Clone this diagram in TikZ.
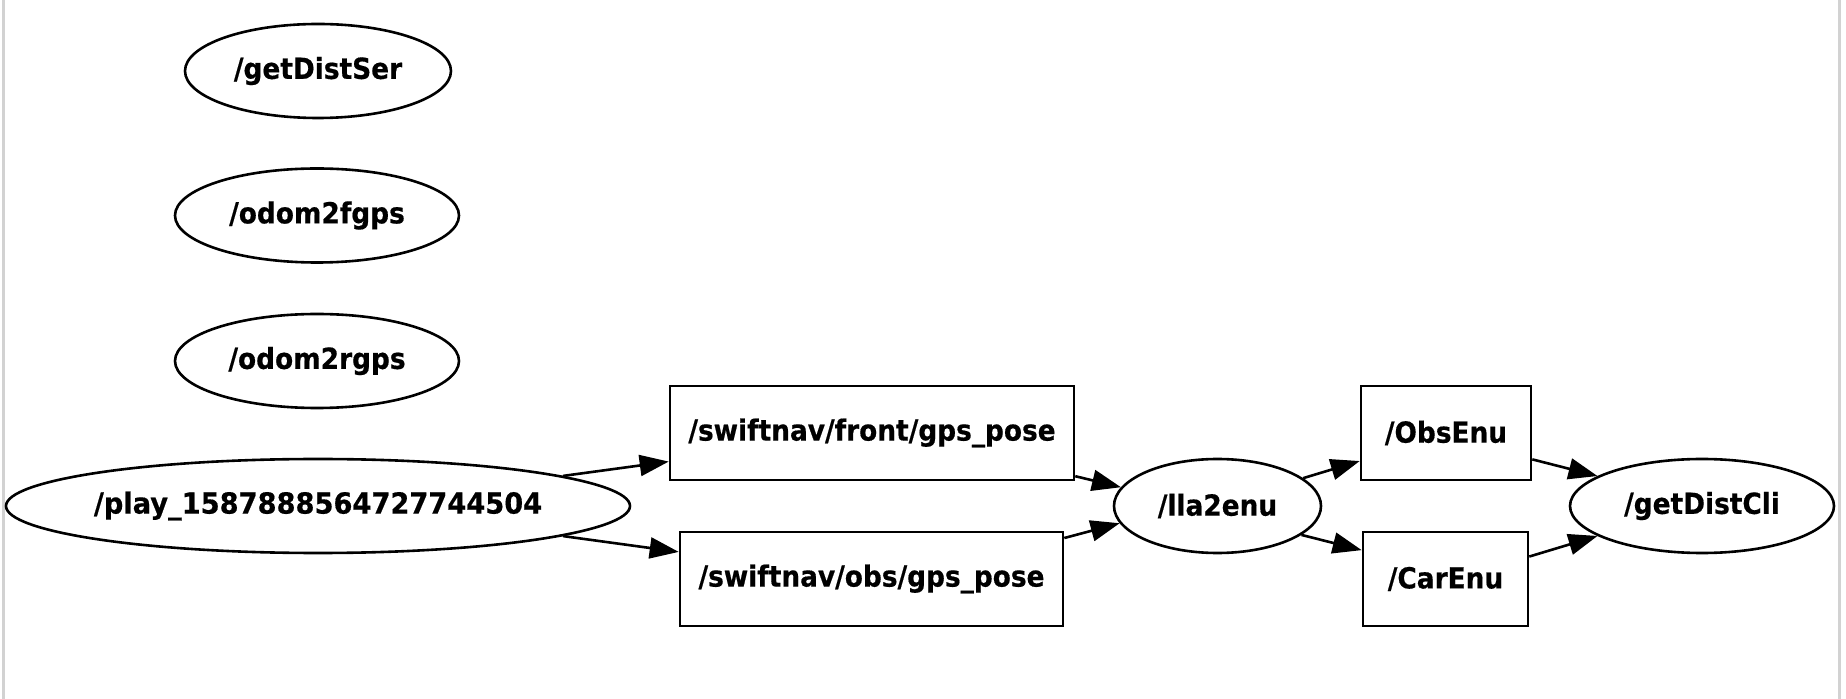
\documentclass[tikz,border=0pt]{standalone}
\usepackage{fontspec}
\setmainfont{DejaVu Sans}[FakeStretch=0.91,BoldFeatures={FakeBold=0.5}]
\newfontfamily\playfont{DejaVu Sans}[FakeStretch=0.94,BoldFeatures={FakeBold=0.5}]
\usetikzlibrary{shapes.geometric,arrows.meta}
\begin{document}
\begin{tikzpicture}[x=0.5pt,y=-0.5pt,
  lbl/.style={font=\bfseries\fontsize{14.5pt}{17pt}\selectfont, text=black, draw=black, line width=1.3pt, inner sep=0pt},
  nodeell/.style={lbl, ellipse, minimum height=47pt},
  topicbox/.style={lbl, rectangle, minimum height=47pt},
  edge/.style={draw=black, line width=1.3pt, -{Triangle[length=14.5pt,width=10.5pt]}}]
\useasboundingbox (0,0) rectangle (1846,699);
\draw[gray!35, line width=1.5pt] (3,0) -- (3,699);
\draw[gray!35, line width=1.5pt] (1839,0) -- (1839,699);

\node[nodeell, minimum width=133pt] (getDistSer) at (318,71) {/getDistSer};
\node[nodeell, minimum width=142pt] (odomf) at (317,215.5) {/odom2fgps};
\node[nodeell, minimum width=142pt] (odomr) at (317,361) {/odom2rgps};
\node[nodeell, minimum width=312pt, font=\playfont\bfseries\fontsize{14.5pt}{17pt}\selectfont] (play) at (318,506) {\makebox[0pt]{/play\_1587888564727744504}};
\node[topicbox, minimum width=202pt] (front) at (872,433) {/swiftnav/front/gps\_pose};
\node[topicbox, minimum width=191.5pt] (obs) at (871.5,579) {/swiftnav/obs/gps\_pose};
\node[nodeell, minimum width=103.5pt] (lla) at (1217.5,506) {/lla2enu};
\node[topicbox, minimum width=85pt] (obsenu) at (1446,433) {/ObsEnu};
\node[topicbox, minimum width=82.5pt] (carenu) at (1445.5,579) {/CarEnu};
\node[nodeell, minimum width=132pt] (cli) at (1702,506) {/getDistCli};

\draw[edge] (play.7.2) -- (front.188.4);
\draw[edge] (play.-7.7) -- (obs.172.3);
\draw[edge] (front.-12.3) -- (lla.169.9);
\draw[edge] (obs.12.1) -- (lla.190.7);
\draw[edge] (lla.18) -- (obsenu.198.2);
\draw[edge] (lla.-19) -- (carenu.161.3);
\draw[edge] (obsenu.-17) -- (cli.164.3);
\draw[edge] (carenu.15.6) -- (cli.196.2);
\end{tikzpicture}
\end{document}
